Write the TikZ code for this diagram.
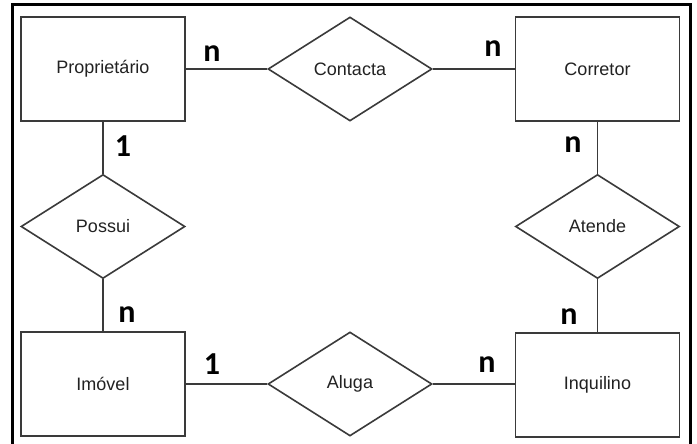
\documentclass[tikz,border=0pt]{standalone}
\usepackage{fontspec}
\setmainfont{Liberation Sans}
\newfontfamily\cardfont{Carlito}
\usetikzlibrary{shapes.geometric}
\definecolor{inkline}{HTML}{3A3A3A}
\definecolor{inktext}{HTML}{222222}
\tikzset{
  entity/.style={draw=inkline, line width=1.6pt, rectangle, minimum width=164pt,
    minimum height=104pt, inner sep=0pt, text=inktext, font=\fontsize{18}{20}\selectfont},
  relation/.style={draw=inkline, line width=1.6pt, diamond, minimum width=164pt,
    minimum height=104pt, inner sep=0pt, text=inktext, font=\fontsize{18}{20}\selectfont},
  link/.style={draw=inkline, line width=1.6pt},
  card/.style={anchor=base, inner sep=0pt, text=black,
    font=\cardfont\bfseries\fontsize{32}{34}\selectfont},
  frame/.style={draw=black, line width=3pt}
}
\begin{document}
\begin{tikzpicture}[x=1pt,y=-1pt]
  \useasboundingbox (0,0) rectangle (697,444);
  \fill[white] (0,0) rectangle (697,444);
  \draw[frame] (12,5) rectangle (690,452);

  % entities
  \node[entity] (prop) at (103,69) {Proprietário};
  \node[entity] (corr) at (597.5,69) {Corretor};
  \node[entity] (imov) at (103,384) {Imóvel};
  \node[entity] (inq)  at (597.5,385) {Inquilino};

  % relationships
  \node[relation] (cont) at (350,69) {Contacta};
  \node[relation] (poss) at (103,226.5) {Possui};
  \node[relation] (aten) at (597.5,226.5) {Atende};
  \node[relation] (alug) at (350,384) {Aluga};

  % connectors
  \draw[link] (prop.east) -- (cont.west);
  \draw[link] (cont.east) -- (corr.west);
  \draw[link] (prop.south) -- (poss.north);
  \draw[link] (poss.south) -- (imov.north);
  \draw[link] (corr.south) -- (aten.north);
  \draw[link] (aten.south) -- (inq.north);
  \draw[link] (imov.east) -- (alug.west);
  \draw[link] (alug.east) -- (inq.west |- alug.east);

  % cardinalities
  \node[card] (c1) at (212,62) {n};
  \node[card] (c2) at (123,157) {1};
  \node[card] (c3) at (493,57) {n};
  \node[card] (c4) at (573,152) {n};
  \node[card] (c5) at (127,322) {n};
  \node[card] (c6) at (212,374) {1};
  \node[card] (c7) at (487,372) {n};
  \node[card] (c8) at (569,324) {n};
\end{tikzpicture}
\end{document}
